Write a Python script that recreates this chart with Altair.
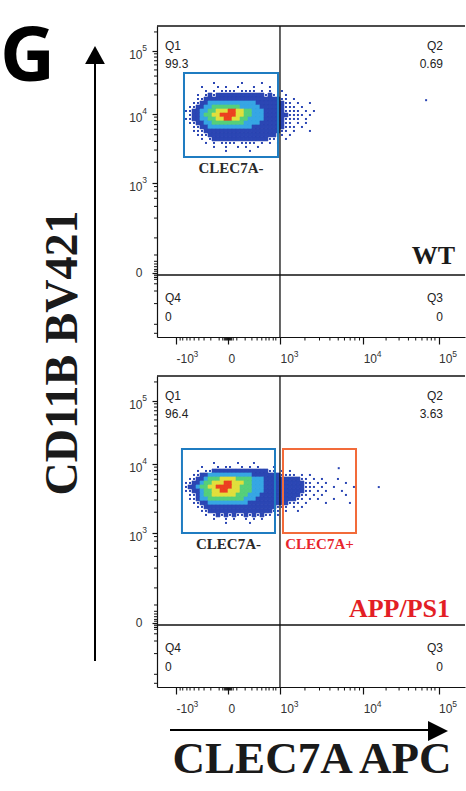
import altair as alt
import pandas as pd

# ---------------- axis data (display units) ----------------
X_TICK_POS = [-1.0, 0.0, 1.0, 2.6, 4.05]
X_TICK_BASE = ["-10", "0", "10", "10", "10"]
X_TICK_EXP = ["3", "", "3", "4", "5"]
Y_TICK_POS = [0.0, 1.0, 1.767, 2.467]
Y_TICK_BASE = ["0", "10", "10", "10"]
Y_TICK_EXP = ["", "3", "4", "5"]
X_MINOR = [-0.92, -0.87, -0.79, -0.73, -0.65, -0.56, -0.46, -0.33, -0.17,
           -0.1, -0.07, -0.05, -0.03, -0.01, 0.01, 0.03, 0.05, 0.07, 0.1,
           0.17, 0.33, 0.46, 0.56, 0.65, 0.73, 0.79, 0.87, 0.92,
           1.48, 1.76, 1.96, 2.12, 2.24, 2.35, 2.44, 2.53,
           3.04, 3.29, 3.47, 3.61, 3.73, 3.83, 3.91, 3.98]
Y_MINOR = [-0.67, -0.57, -0.34, -0.2, -0.12, -0.07, -0.05, -0.03, -0.01,
           0.02, 0.04, 0.07, 0.1, 0.13, 0.2, 0.39, 0.61, 0.74, 0.83, 0.91, 0.96,
           1.231, 1.366, 1.462, 1.536, 1.597, 1.648, 1.693, 1.732,
           1.978, 2.101, 2.188, 2.256, 2.312, 2.358, 2.399, 2.435, 2.678]
X_DOMAIN = [-1.365, 4.558]
Y_DOMAIN = [-0.711, 2.744]
QUAD_X = [1.0]
QUAD_Y = [-0.022]

QUAD_NAMES = ["Q1", "Q2", "Q3", "Q4"]
WT_PCT = ["99.3", "0.69", "0", "0"]
APP_PCT = ["96.4", "3.63", "0", "0"]
SAMPLES = ["WT", "APP/PS1"]
PANEL_LETTER = ["G"]
Y_TITLE = ["CD11B BV421"]
X_TITLE = ["CLEC7A APC"]

# ---------------- density (binned events, level 0-6) ----------------
GRID_X0 = -0.846
GRID_DX = 0.0769
GRID_DY = 0.0444
WT_GRID_Y0 = 2.133
APP_GRID_Y0 = 1.8

WT_DENSITY = [
    "0000000100000010000100000000000000",
    "0000100010100100010001000000000000",
    "0000010101111011110101001000000000",
    "0001012122222222222212110100000000",
    "0001122222222222222222221101000000",
    "0011223333333333332222222110100100",
    "0112233444444433333222222111010000",
    "1122334455566554433322222111101010",
    "0122344556666554433322222211110100",
    "1122334455665544333322222111101000",
    "0112233444444443333222222110101000",
    "0011223333333333322222222111010000",
    "0011122222222222222222221101000100",
    "0001112222222222222222211010000000",
    "0000101222222222222221110100000000",
    "0000010101111011110101010000000000",
    "0000000100100101001000000000000000",
    "0000000000100000100000000000000000",
]
WT_LONE_X = [3.81]
WT_LONE_Y = [1.92]

APP_DENSITY = [
    "0000000100000100010000000000000000000000000",
    "0000100010110010101000100000000000000000000",
    "0001011222222222222221101010000000000000000",
    "0011223333333333322222221111010100000000000",
    "0112234445555444433322222222211010100010000",
    "1122344555665554433322222222221101010000100",
    "1223445566665544433322222222221110100100001",
    "1122344556655544433322222222221101010001000",
    "0112344555555444333222222222211010100000100",
    "0112334444444443332222222222110101000100000",
    "0011223333333333222222222211101000010000010",
    "0001122222222222222222211101010000000000000",
    "0000112222222222222222110100100000000000000",
    "0000010121212112121211010000000000000000000",
    "0000000100101001010100000000000000000000000",
    "0000000000100000100000000000000000000000000",
]
APP_LONE_X = [2.9, 2.13]
APP_LONE_Y = [1.51, 1.72]

# ---------------- gates ----------------
WT_GATE_NAMES = ["CLEC7A-"]
WT_GATE_X1 = [-0.846]
WT_GATE_X2 = [0.962]
WT_GATE_Y1 = [1.289]
WT_GATE_Y2 = [2.222]
APP_GATE_NAMES = ["CLEC7A-", "CLEC7A+"]
APP_GATE_X1 = [-0.885, 1.058]
APP_GATE_X2 = [0.904, 2.462]
APP_GATE_Y1 = [1.0, 1.0]
APP_GATE_Y2 = [1.933, 1.933]

# ---------------- styles ----------------
LEVEL_COLORS = ["#2b46b4", "#36a6e4", "#55cf7a", "#e0df3c", "#ec4020"]
GATE_STROKE = {"CLEC7A-": "#1f7cc1", "CLEC7A+": "#f26b3a"}
GATE_TEXT = {"CLEC7A-": "#2a2a2a", "CLEC7A+": "#e8262d"}
SAMPLE_COLOR = {"WT": "#1a1a1a", "APP/PS1": "#e31e25"}
LINE = "#111111"
LABEL = "#333333"
SANS = "Liberation Sans"
SERIF = "Liberation Serif"
W, H = 308, 311
LFS = 12          # tick label font size
EFS = 8.5         # exponent font size
CHAR_W = {"-": 0.333, "0": 0.556, "1": 0.556}

XS = alt.Scale(domain=X_DOMAIN, nice=False, zero=False)
YS = alt.Scale(domain=Y_DOMAIN, nice=False, zero=False)


def expr_map(pos, labels):
    e = "''"
    for p, l in reversed(list(zip(pos, labels))):
        e = f"datum.value == {p} ? '{l}' : {e}"
    return e


X_AXIS = alt.Axis(values=X_TICK_POS, labelExpr=expr_map(X_TICK_POS, X_TICK_BASE),
                  title=None, grid=False, tickSize=7, tickColor=LINE, tickWidth=1.2,
                  domainColor=LINE, domainWidth=1.2, labelFont=SANS, labelFontSize=LFS,
                  labelColor=LABEL, labelPadding=9, labelFlush=False, labelAlign="left",
                  labelOverlap=False)
Y_AXIS = alt.Axis(values=Y_TICK_POS, labelExpr=expr_map(Y_TICK_POS, Y_TICK_BASE),
                  title=None, grid=False, tickSize=5, tickColor=LINE, tickWidth=1.2,
                  domainColor=LINE, domainWidth=1.2, labelFont=SANS, labelFontSize=LFS,
                  labelColor=LABEL, labelPadding=10, labelFlush=False,
                  labelOverlap=False,
                  labelOffset={"condition": {"test": "datum.value > 0.5", "value": 4}, "value": 0})


def X(field):
    return alt.X(field, scale=XS, axis=X_AXIS)


def Y(field):
    return alt.Y(field, scale=YS, axis=Y_AXIS)


def text_width(s, size):
    return sum(CHAR_W.get(ch, 0.556) for ch in s) * size


def density_frame(rows, y0, width):
    recs = []
    for r, row in enumerate(rows):
        row = row.ljust(width, "0")[:width]
        for c, ch in enumerate(row):
            lv = int(ch)
            if lv > 0:
                recs.append({"x": GRID_X0 + c * GRID_DX, "x2": GRID_X0 + (c + 1) * GRID_DX,
                             "y": y0 - r * GRID_DY, "y2": y0 - (r + 1) * GRID_DY,
                             "xc": GRID_X0 + (c + 0.5) * GRID_DX,
                             "yc": y0 - (r + 0.5) * GRID_DY, "lv": lv})
    return pd.DataFrame(recs)


def txt(label, x, y, size, color, align="left", font=SANS, weight="normal",
        baseline="middle", angle=0):
    return alt.Chart(pd.DataFrame({"t": [label]})).mark_text(
        align=align, baseline=baseline, font=font, fontWeight=weight,
        fontSize=size, color=color, angle=angle
    ).encode(text="t:N", x=alt.value(x), y=alt.value(y))


def exponent_layers():
    out = []
    for p, b, e in zip(X_TICK_POS, X_TICK_BASE, X_TICK_EXP):
        if e:
            out.append(alt.Chart(pd.DataFrame({"v": [p], "e": [e]})).mark_text(
                align="left", baseline="alphabetic", font=SANS, fontSize=EFS, color=LABEL,
                dx=text_width(b, LFS) + 0.3
            ).encode(x=X("v:Q"), y=alt.value(H + 20), text="e:N"))
    for p, b, e in zip(Y_TICK_POS, Y_TICK_BASE, Y_TICK_EXP):
        if e:
            out.append(alt.Chart(pd.DataFrame({"v": [p], "e": [e]})).mark_text(
                align="left", baseline="alphabetic", font=SANS, fontSize=EFS, color=LABEL,
                dy=0.5
            ).encode(y=Y("v:Q"), x=alt.value(-14.7), text="e:N"))
    return out


def panel(rows, width, y0, lone_x, lone_y, gnames, gx1, gx2, gy1, gy2, pct,
          sample, sample_x, sample_y):
    cells = density_frame(rows, y0, width)
    dense = cells[cells.lv >= 2]
    sparse = pd.concat([cells[cells.lv == 1][["xc", "yc"]],
                        pd.DataFrame({"xc": lone_x, "yc": lone_y})])

    layers = []
    layers.append(alt.Chart(dense).mark_rect(strokeWidth=0.6).encode(
        x=X("x:Q"), x2="x2", y=Y("y:Q"), y2="y2",
        color=alt.Color("lv:O", scale=alt.Scale(domain=[2, 3, 4, 5, 6], range=LEVEL_COLORS), legend=None),
        stroke=alt.Stroke("lv:O", scale=alt.Scale(domain=[2, 3, 4, 5, 6], range=LEVEL_COLORS), legend=None),
    ))
    layers.append(alt.Chart(sparse).mark_square(size=4, color="#2b46b4", opacity=1).encode(
        x=X("xc:Q"), y=Y("yc:Q")))
    # minor ticks
    layers.append(alt.Chart(pd.DataFrame({"v": X_MINOR})).mark_rule(color=LINE, strokeWidth=1).encode(
        x=X("v:Q"), y=alt.value(H), y2=alt.value(H + 3.5)))
    layers.append(alt.Chart(pd.DataFrame({"v": Y_MINOR})).mark_rule(color=LINE, strokeWidth=1).encode(
        y=Y("v:Q"), x=alt.value(0), x2=alt.value(-3)))
    layers += exponent_layers()
    # quadrant gate + top frame
    layers.append(alt.Chart(pd.DataFrame({"v": QUAD_X})).mark_rule(color=LINE, strokeWidth=1.3).encode(
        x=X("v:Q")))
    layers.append(alt.Chart(pd.DataFrame({"v": QUAD_Y})).mark_rule(color=LINE, strokeWidth=1.3).encode(
        y=Y("v:Q")))
    layers.append(alt.Chart(pd.DataFrame({"v": [Y_DOMAIN[1]]})).mark_rule(color=LINE, strokeWidth=1.3).encode(
        y=Y("v:Q")))
    # gates
    for n, a, b, c, d in zip(gnames, gx1, gx2, gy1, gy2):
        g = pd.DataFrame({"name": [n], "x1": [a], "x2": [b], "y1": [c], "y2": [d], "xm": [(a + b) / 2]})
        layers.append(alt.Chart(g).mark_rect(fill=None, fillOpacity=0, stroke=GATE_STROKE[n], strokeWidth=2).encode(
            x=X("x1:Q"), x2="x2", y=Y("y1:Q"), y2="y2"))
        layers.append(alt.Chart(g).mark_text(font=SERIF, fontWeight="bold", fontSize=15,
                                             color=GATE_TEXT[n], baseline="middle", dy=11).encode(
            x=X("xm:Q"), y=Y("y1:Q"), text="name:N"))
    # quadrant stats
    layers.append(txt(QUAD_NAMES[0], 8, 20, 12, "#222222"))
    layers.append(txt(pct[0], 8, 38, 12, "#222222"))
    layers.append(txt(QUAD_NAMES[1], 286, 20, 12, "#222222", align="right"))
    layers.append(txt(pct[1], 286, 38, 12, "#222222", align="right"))
    layers.append(txt(QUAD_NAMES[3], 8, 272, 12, "#222222"))
    layers.append(txt(pct[3], 8, 291, 12, "#222222"))
    layers.append(txt(QUAD_NAMES[2], 286, 272, 12, "#222222", align="right"))
    layers.append(txt(pct[2], 286, 291, 12, "#222222", align="right"))
    layers.append(txt(sample, sample_x, sample_y, 26, SAMPLE_COLOR[sample], align="right",
                      font=SERIF, weight="bold"))
    return layers


one = pd.DataFrame({"k": [0]})

p1_layers = panel(WT_DENSITY, 34, WT_GRID_Y0, WT_LONE_X, WT_LONE_Y, WT_GATE_NAMES,
                  WT_GATE_X1, WT_GATE_X2, WT_GATE_Y1, WT_GATE_Y2, WT_PCT, SAMPLES[0], 298, 230)
# panel letter, vertical arrow and y title (drawn beside the first panel)
p1_layers.append(txt(PANEL_LETTER[0], -157, 55, 76, "black", font="Open Sans", weight="bold",
                     baseline="alphabetic"))
p1_layers.append(alt.Chart(one).mark_rule(color="black", strokeWidth=2).encode(
    x=alt.value(-62), y=alt.value(35), y2=alt.value(635)))
p1_layers.append(alt.Chart(one).mark_point(shape="M0,-1L1.1,1L-1.1,1Z", filled=True, color="black",
                                           opacity=1, size=324, strokeWidth=0).encode(
    x=alt.value(-62), y=alt.value(29)))
p1_layers.append(txt(Y_TITLE[0], -94, 327, 46, "#1a1a1a", align="center", font=SERIF,
                     weight="bold", angle=270))
p1 = alt.layer(*p1_layers).properties(width=W, height=H)

p2_layers = panel(APP_DENSITY, 43, APP_GRID_Y0, APP_LONE_X, APP_LONE_Y, APP_GATE_NAMES,
                  APP_GATE_X1, APP_GATE_X2, APP_GATE_Y1, APP_GATE_Y2, APP_PCT, SAMPLES[1], 293, 233)
p2_layers.append(alt.Chart(one).mark_rule(color="black", strokeWidth=2).encode(
    x=alt.value(13), x2=alt.value(283), y=alt.value(354)))
p2_layers.append(alt.Chart(one).mark_point(shape="M1,0L-1,-1L-1,1Z", filled=True, color="black",
                                           opacity=1, size=400, strokeWidth=0).encode(
    x=alt.value(281), y=alt.value(355)))
p2_layers.append(txt(X_TITLE[0], 155, 397, 45, "#1a1a1a", align="center", font=SERIF,
                     weight="bold", baseline="alphabetic"))
p2 = alt.layer(*p2_layers).properties(width=W, height=H)

chart = alt.vconcat(p1, p2, spacing=39, bounds="flush").resolve_scale(
    color="independent", stroke="independent"
).properties(
    padding={"left": 0, "top": 20, "right": 0, "bottom": 0}
).configure_view(stroke=None)

chart.save("out.html", embed_options={"renderer": "svg", "actions": False})
